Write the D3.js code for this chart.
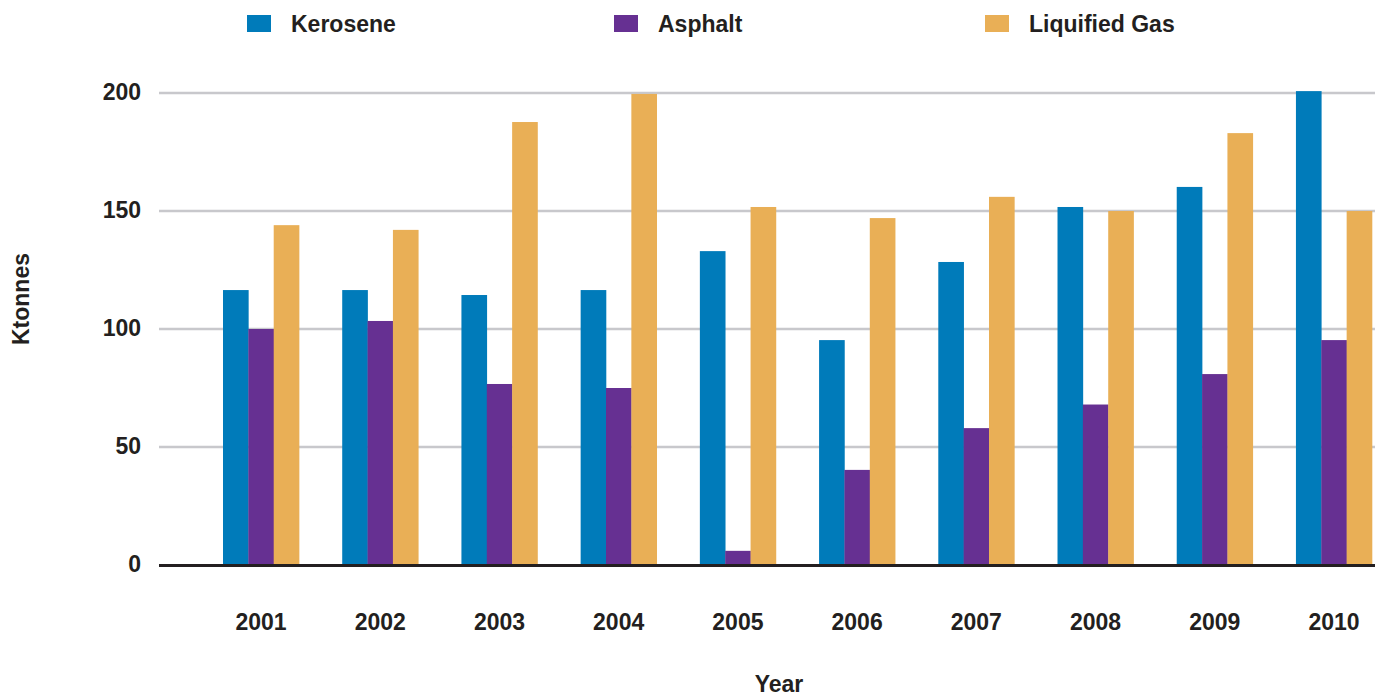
<!DOCTYPE html>
<html>
<head>
<meta charset="utf-8">
<script src="https://cdn.jsdelivr.net/npm/d3@7"></script>
<style>
  html, body { margin: 0; padding: 0; background: #fff; }
  svg { display: block; }
  text { font-family: "Liberation Sans", Arial, sans-serif; font-weight: bold; fill: #231f20; }
</style>
</head>
<body>
<svg id="chart" width="1386" height="696"></svg>
<script>
const years = ["2001","2002","2003","2004","2005","2006","2007","2008","2009","2010"];
const seriesNames = ["Kerosene", "Asphalt", "Liquified Gas"];
const kerosene    = [116.5, 116.5, 114.4, 116.5, 133, 95.3, 128.4, 151.7, 160.2, 200.8];
const asphalt     = [100, 103.4, 76.7, 75, 6, 40.3, 58, 68, 80.9, 95.3];
const liquifiedGas = [144, 142, 187.7, 199.6, 151.7, 147, 156, 150, 183, 150];
const yTicks = [0, 50, 100, 150, 200];
const colors = ["#007bba", "#663092", "#e9af56"];

const seriesValues = [kerosene, asphalt, liquifiedGas];
const svg = d3.select("#chart");

const y = d3.scaleLinear().domain([0, 200]).range([565, 93]);
const x = d3.scaleBand().domain(years).range([223, 1372]).paddingInner(0.362).paddingOuter(0);
const xs = d3.scaleBand().domain(seriesNames).range([0, x.bandwidth()]).padding(0);

const gridX0 = 159, gridX1 = 1375;

// gridlines
svg.append("g").selectAll("line").data(yTicks.filter(d => d > 0)).join("line")
  .attr("x1", gridX0).attr("x2", gridX1)
  .attr("y1", d => y(d)).attr("y2", d => y(d))
  .attr("stroke", "#c8c8cc").attr("stroke-width", 2.6);

// y tick labels
svg.append("g").selectAll("text").data(yTicks).join("text")
  .attr("x", 141).attr("y", d => y(d) - 1)
  .attr("dy", "0.36em")
  .attr("text-anchor", "end")
  .attr("font-size", 23)
  .text(d => d);

// bars
const groups = svg.append("g").selectAll("g").data(years).join("g")
  .attr("transform", d => `translate(${x(d)},0)`);
groups.selectAll("rect")
  .data((yr, i) => seriesNames.map((s, j) => ({ s, j, v: seriesValues[j][i] })))
  .join("rect")
  .attr("x", d => xs(d.s))
  .attr("width", xs.bandwidth() + 0.3)
  .attr("y", d => y(d.v))
  .attr("height", d => y(0) - y(d.v))
  .attr("fill", d => colors[d.j]);

// baseline
svg.append("line")
  .attr("x1", gridX0).attr("x2", gridX1)
  .attr("y1", y(0) + 0.5).attr("y2", y(0) + 0.5)
  .attr("stroke", "#231f20").attr("stroke-width", 3);

// x tick labels
svg.append("g").selectAll("text").data(years).join("text")
  .attr("x", d => x(d) + x.bandwidth() / 2)
  .attr("y", 630)
  .attr("text-anchor", "middle")
  .attr("font-size", 23)
  .text(d => d);

// axis titles
svg.append("text")
  .attr("x", 779).attr("y", 692)
  .attr("text-anchor", "middle")
  .attr("font-size", 23)
  .text("Year");
svg.append("text")
  .attr("transform", "translate(29,299) rotate(-90)")
  .attr("text-anchor", "middle")
  .attr("font-size", 23)
  .text("Ktonnes");

// legend
const legendX = [247, 614, 985];
const legend = svg.append("g").selectAll("g").data(seriesNames).join("g")
  .attr("transform", (d, i) => `translate(${legendX[i]},0)`);
legend.append("rect")
  .attr("x", 0).attr("y", 15).attr("width", 24).attr("height", 17)
  .attr("fill", (d, i) => colors[i]);
legend.append("text")
  .attr("x", 44).attr("y", 32)
  .attr("font-size", 23)
  .text(d => d);
</script>
</body>
</html>
